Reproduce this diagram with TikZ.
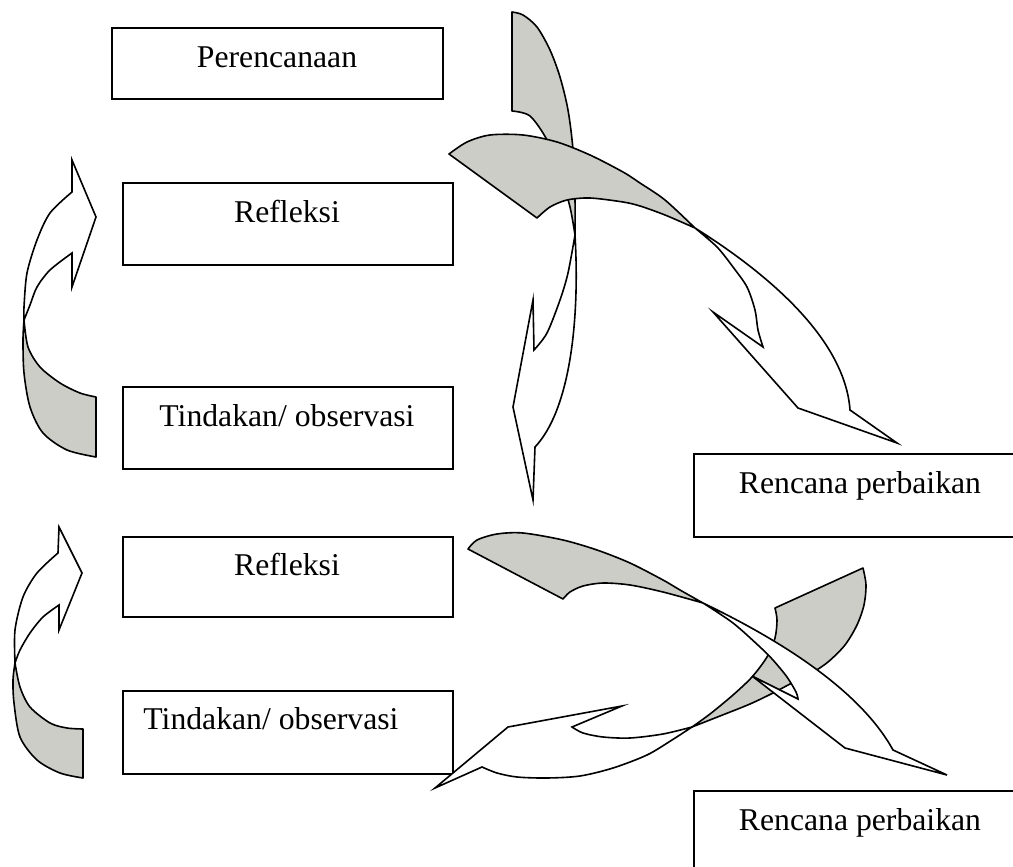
\documentclass[tikz,border=0pt]{standalone}
\usepackage{fontspec}
\setmainfont{Liberation Serif}
\definecolor{shade}{RGB}{205,205,200}
\tikzset{
  box/.style={draw=black, line width=1.8pt, fill=white, inner sep=0pt, anchor=north west},
  lbl/.style={font=\fontsize{31.7}{38}\selectfont, anchor=base, inner sep=0pt},
  back/.style={draw=black, line width=1.6pt, fill=shade, line join=round},
  front/.style={draw=black, line width=1.6pt, fill=white, line join=miter},
}
\begin{document}
\begin{tikzpicture}[x=1pt,y=-1pt]
\useasboundingbox (0,0) rectangle (1013,867);
\fill[white] (0,0) rectangle (1013,867);

% ---------- boxes ----------
\node[box, minimum width=331pt, minimum height=71pt] (perencanaan) at (111,27) {};
\node[lbl] (tperencanaan) at (277,68) {Perencanaan};
\node[box, minimum width=330pt, minimum height=82pt] (refleksiA) at (122,182) {};
\node[lbl] (trefleksiA) at (287,222) {Refleksi};
\node[box, minimum width=330pt, minimum height=82pt] (tindakanA) at (122,386) {};
\node[lbl] (ttindakanA) at (287,426) {Tindakan/ observasi};
\node[box, minimum width=334pt, minimum height=83pt] (rencanaA) at (693,453) {};
\node[lbl] (trencanaA) at (860,493) {Rencana perbaikan};
\node[box, minimum width=330pt, minimum height=80pt] (refleksiB) at (122,536) {};
\node[lbl] (trefleksiB) at (287,575) {Refleksi};
\node[box, minimum width=330pt, minimum height=83pt] (tindakanB) at (122,690) {};
\node[lbl] (ttindakanB) at (271,729) {Tindakan/ observasi};
\node[box, minimum width=334pt, minimum height=90pt] (rencanaB) at (693,790) {};
\node[lbl] (trencanaB) at (860,830) {Rencana perbaikan};

% ---------- arrow A (vertical, top) ----------
\coordinate (xa) at (575,235);
\path[back] (512,12) -- (512,111)
  -- plot[smooth] coordinates {(512,111) (530,116) (547,140) (560,173) (570,207) (575,235)}
  -- plot[smooth] coordinates {(575,235) (575,200) (573,150) (568,110) (560,77) (550,50) (537,27) (523,15) (512,12)}
  -- cycle;
\path[front] (xa) .. controls (580,320) and (570,410) .. (535,447)
  -- (533,500) -- (513,407) -- (533,300) -- (534,350)
  -- plot[smooth] coordinates {(534,350) (547,333) (560,300) (568,273) (575,235)}
  -- cycle;

% ---------- arrow B (top, to lower right) ----------
\coordinate (xb) at (695,228);
\path[back] (449,154) -- (537,218)
  -- plot[smooth] coordinates {(537,218) (550,207) (567,200) (590,198) (623,202) (640,206) (665,215) (695,228)}
  -- plot[smooth] coordinates {(695,228) (665,200) (640,183) (623,172) (590,155) (557,142) (523,135) (490,135) (467,142) (449,154)}
  -- cycle;
\path[front] (xb) .. controls (770,275) and (845,340) .. (850,410)
  -- (897,443) -- (798,408) -- (713,312) -- (763,347)
  -- plot[smooth] coordinates {(763,347) (758,330) (755,310) (747,287) (733,267) (717,247) (695,228)}
  -- cycle;

% ---------- arrow E (left, top) ----------
\coordinate (xe) at (24,320);
\path[back] (xe)
  -- plot[smooth] coordinates {(24,320) (28,347) (40,367) (60,383) (80,393) (96,397)}
  -- (96,457)
  -- plot[smooth] coordinates {(96,457) (67,450) (43,433) (30,407) (24,373) (23,340) (24,320)}
  -- cycle;
\path[front] (xe)
  -- plot[smooth] coordinates {(24,320) (24,307) (27,273) (37,240) (50,213) (72,192)}
  -- (72,160) -- (96,217) -- (72,287) -- (72,253)
  -- plot[smooth] coordinates {(72,253) (50,270) (37,287) (30,305) (24,320)}
  -- cycle;

% ---------- arrow D (lower, pointing left) ----------
\coordinate (xd) at (692,727);
\path[back] (xd)
  -- plot[smooth] coordinates {(692,727) (710,714) (733,695) (752,677) (767,657) (775,638) (777,620) (775,608)}
  -- (863,568)
  -- plot[smooth] coordinates {(863,568) (866,585) (864,605) (857,625) (845,645) (828,662) (810,674) (790,684) (773,693) (750,704) (720,716) (692,727)}
  -- cycle;
\path[front] (xd)
  -- plot[smooth] coordinates {(692,727) (672,740) (647,755) (613,768) (580,776) (547,778) (517,777) (497,773) (482,767)}
  -- (435,788) -- (508,727) -- (622,706) -- (572,727)
  -- plot[smooth] coordinates {(572,727) (583,733) (603,737) (630,738) (663,734) (692,727)}
  -- cycle;

% ---------- arrow C (lower, to lower right) ----------
\coordinate (xc) at (703,603);
\path[back] (468,549) -- (563,599)
  -- plot[smooth] coordinates {(563,599) (570,592) (583,586) (603,583) (630,585) (663,592) (703,603)}
  -- plot[smooth] coordinates {(703,603) (680,590) (663,580) (630,563) (597,550) (563,540) (523,533) (497,534) (477,540) (468,549)}
  -- cycle;
\path[front] (xc) .. controls (780,640) and (860,690) .. (893,750)
  -- (947,775) -- (845,748) -- (752,676) -- (798,699)
  -- plot[smooth] coordinates {(798,699) (796,692) (787,677) (773,660) (760,647) (733,623) (703,603)}
  -- cycle;

% ---------- arrow F (left, bottom) ----------
\coordinate (xf) at (15,663);
\path[back] (xf)
  -- plot[smooth] coordinates {(15,663) (20,687) (30,707) (50,723) (67,728) (83,729)}
  -- (83,778)
  -- plot[smooth] coordinates {(83,778) (60,773) (37,760) (20,737) (14,703) (13,680) (15,663)}
  -- cycle;
\path[front] (xf)
  -- plot[smooth] coordinates {(15,663) (15,630) (23,597) (37,573) (58,553)}
  -- (59,527) -- (82,573) -- (59,630) -- (59,605)
  -- plot[smooth] coordinates {(59,605) (43,617) (30,633) (20,650) (15,663)}
  -- cycle;
\end{tikzpicture}
\end{document}
